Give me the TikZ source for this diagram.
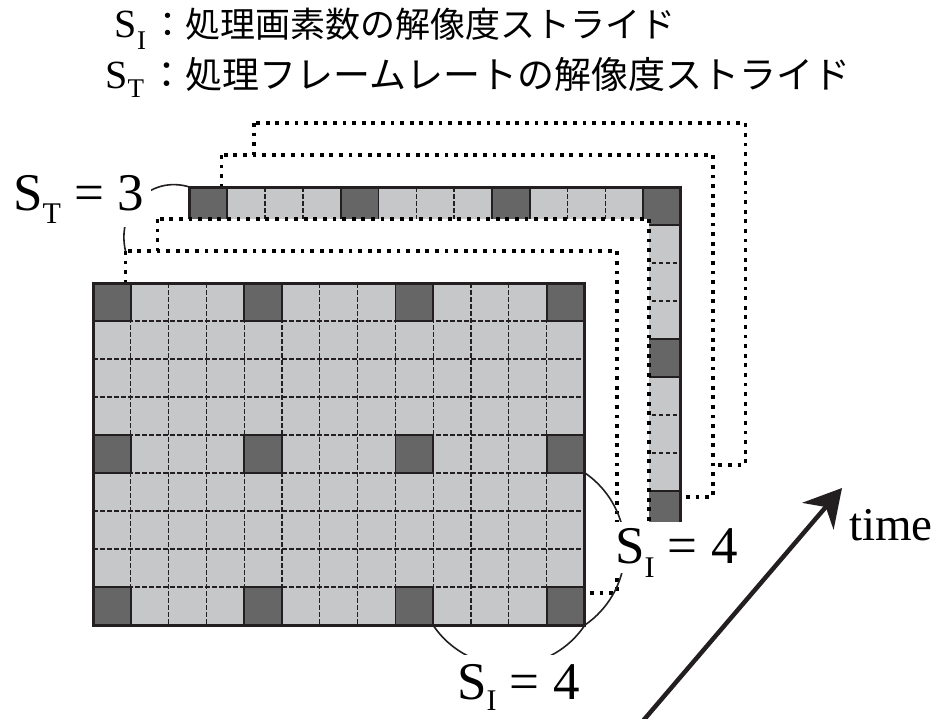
\documentclass[tikz,border=0pt]{standalone}
\usepackage{fontspec}
\setmainfont{Liberation Serif}
\newfontfamily\cjkfont{Noto Sans CJK JP}
\usetikzlibrary{arrows.meta}
\definecolor{cellDark}{HTML}{666666}
\definecolor{cellLight}{HTML}{C6C7C8}
\definecolor{inkBlack}{HTML}{231F20}
\tikzset{
  gridDash/.style={draw=inkBlack, line width=1.3pt, dash pattern=on 4.5pt off 2.5pt},
  darkCell/.style={fill=cellDark, draw=inkBlack, line width=1.8pt},
  frameBorder/.style={draw=inkBlack, line width=3pt},
  dotFrame/.style={fill=white, draw=black, line width=3.8pt, dash pattern=on 3.8pt off 5.8pt},
  dimArc/.style={draw=inkBlack, line width=1.6pt},
  dimLabel/.style={fill=white, inner xsep=5pt, inner ysep=0pt, font=\fontsize{53}{53}\selectfont},
  titleText/.style={inner sep=0pt, font=\fontsize{40}{40}\selectfont},
  timeArrow/.style={draw=inkBlack, line width=4.5pt, -{Stealth[length=37pt, width=41pt, inset=12pt]}}
}
\newcommand\drawgridframe[1]{%
  \begin{scope}[shift={#1}]
    \fill[cellLight] (0,0) rectangle (491.4,342);
    \foreach \c in {1,...,12} \draw[gridDash] (\c*37.8,0) -- (\c*37.8,342);
    \foreach \r in {1,...,8} \draw[gridDash] (0,\r*38) -- (491.4,\r*38);
    \foreach \c in {0,4,8,12} {\foreach \r in {0,4,8} {\draw[darkCell] (\c*37.8,\r*38) rectangle ++(37.8,38);}}
    \draw[frameBorder] (0,0) rectangle (491.4,342);
  \end{scope}}
\newcommand\labS[2]{S\raisebox{-#2}{\fontsize{30}{30}\selectfont #1}}
\begin{document}
\begin{tikzpicture}[x=1pt, y=-1pt]
\useasboundingbox (0,0) rectangle (933,718);
% frame origins
\coordinate (f0) at (93,283);
\coordinate (f1) at (125.5,251);
\coordinate (f2) at (157.5,219);
\coordinate (f3) at (189.5,187);
\coordinate (f4) at (221.5,155);
\coordinate (f5) at (254,123);
% frames, back to front
\draw[dotFrame] (f5) rectangle ++(491.4,342);
\draw[dotFrame] (f4) rectangle ++(491.4,342);
\drawgridframe{(f3)}
\draw[dotFrame] (f2) rectangle ++(491.4,342);
\draw[dotFrame] (f1) rectangle ++(491.4,342);
\drawgridframe{(f0)}
% dimension arcs
\coordinate (siRtop) at (585,473);
\coordinate (siBleft) at (433,625);
\draw[dimArc] (siRtop) arc[start angle=55.5, end angle=-55.5, radius=92.2pt];
\draw[dimArc] (siBleft) arc[start angle=213.6, end angle=326.4, radius=91.2pt];
\draw[dimArc] (f1) .. controls (116,210) and (150,175) .. (f3);
% labels
\node[dimLabel, anchor=base west, inner xsep=7pt, text height=42pt, text depth=17pt] (stLabel) at (6,210) {\labS{T}{13pt} = 3};
\node[dimLabel, anchor=base west, text height=41pt, text depth=10pt] (siRight) at (610,563) {\labS{I}{14pt} = 4};
\node[dimLabel, anchor=base west, text height=44pt, text depth=13pt] (siBottom) at (452,699) {\labS{I}{11pt} = 4};
% time arrow
\coordinate (timeTail) at (642,722);
\coordinate (timeTip) at (842,488);
\draw[timeArrow] (timeTail) -- (timeTip);
\node[inner sep=0pt, anchor=base west, font=\fontsize{47}{47}\selectfont] (timeLabel) at (849,540) {time};
% title
\node[titleText, anchor=base west] (titleI) at (150,37) {\llap{S\raisebox{-12pt}{\fontsize{27}{27}\selectfont I}\kern4pt}{\cjkfont\fontsize{35}{35}\selectfont ：処理画素数の解像度ストライド}};
\node[titleText, anchor=base west] (titleT) at (148,88) {\llap{S\raisebox{-9pt}{\fontsize{27}{27}\selectfont T}\kern4pt}{\cjkfont\fontsize{37}{37}\selectfont ：処理フレームレートの解像度ストライド}};
\end{tikzpicture}
\end{document}
